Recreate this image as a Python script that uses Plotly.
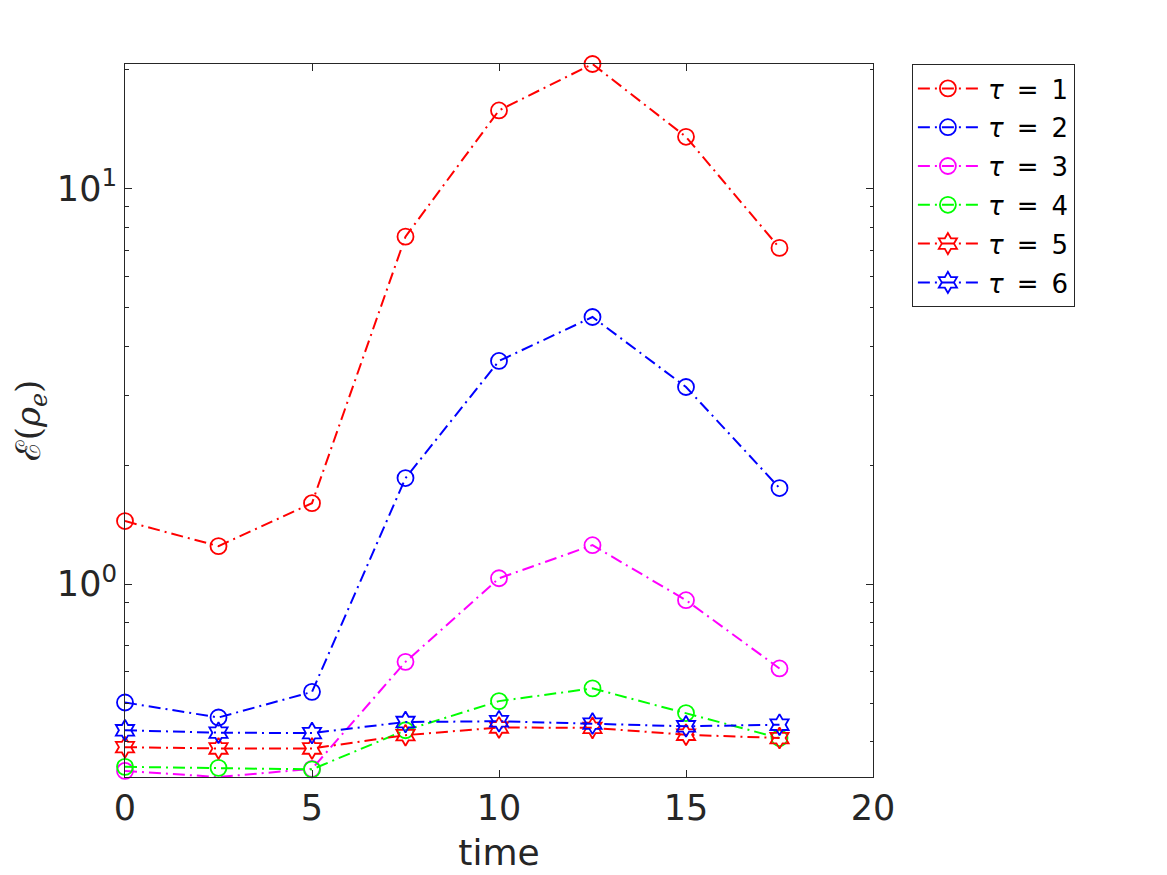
import plotly.graph_objects as go

# values (log y axis)
time = [0, 2.5, 5, 7.5, 10, 12.5, 15, 17.5]

tau1 = [1.444, 1.248, 1.603, 7.57, 15.79, 20.69, 13.54, 7.09]
tau2 = [0.502, 0.460, 0.534, 1.855, 3.67, 4.74, 3.153, 1.75]
tau3 = [0.337, 0.3252, 0.341, 0.636, 1.035, 1.255, 0.911, 0.612]
tau4 = [0.345, 0.343, 0.340, 0.427, 0.506, 0.545, 0.472, 0.408]
tau5 = [0.387, 0.384, 0.384, 0.415, 0.434, 0.433, 0.416, 0.408]
tau6 = [0.427, 0.421, 0.420, 0.448, 0.450, 0.444, 0.437, 0.441]

labels = ["1", "2", "3", "4", "5", "6"]
series = [tau1, tau2, tau3, tau4, tau5, tau6]
colors = ["#FF0000", "#0000FF", "#FF00FF", "#00FF00", "#FF0000", "#0000FF"]
symbols = ["circle-open"] * 4 + ["hexagram-open"] * 2

ytick_vals = [1, 10]
ytick_text = ["10<sup>0</sup>", "10<sup>1</sup>"]
yminor_vals = [0.4, 0.5, 0.6, 0.7, 0.8, 0.9, 2, 3, 4, 5, 6, 7, 8, 9, 20]

axcol = "#262626"

fig = go.Figure()
for lab, vals, col, sym in zip(labels, series, colors, symbols):
    fig.add_trace(go.Scatter(
        x=time, y=vals, mode="lines+markers",
        name="\u2009<i>τ</i>\u2002=\u2002" + lab, legendgroup=lab,
        line=dict(color=col, width=2, dash="12px,5px,2px,5px"),
        marker=dict(symbol=sym, size=16, color=col, line=dict(color=col, width=1.8)),
        cliponaxis=False,
    ))

# the page body has an 8px margin, so margins are offset by 8
fig.update_layout(
    width=1167, height=875,
    paper_bgcolor="white", plot_bgcolor="white",
    margin=dict(l=117, r=302, t=56, b=106),
    font=dict(family="DejaVu Sans", color=axcol),
    legend=dict(x=1.052, y=1.0, xanchor="left", yanchor="top",
                bordercolor=axcol, borderwidth=1,
                font=dict(size=26, color="black"),
                tracegroupgap=2, itemwidth=60),
    xaxis=dict(range=[0, 20], tickvals=[0, 5, 10, 15, 20], automargin=False,
               ticks="inside", ticklen=7, tickcolor=axcol,
               showline=True, linecolor=axcol, linewidth=1, mirror="ticks",
               showgrid=False, zeroline=False,
               tickfont=dict(size=35),
               title=dict(text="time", font=dict(size=36), standoff=12)),
    yaxis=dict(type="log", range=[-0.4878, 1.3158], automargin=False,
               tickmode="array", tickvals=ytick_vals, ticktext=ytick_text,
               ticks="inside", ticklen=7, tickcolor=axcol,
               minor=dict(tickmode="array", tickvals=yminor_vals,
                          ticks="inside", ticklen=3.5, tickcolor=axcol),
               showline=True, linecolor=axcol, linewidth=1, mirror="ticks",
               showgrid=False, zeroline=False,
               tickfont=dict(size=35),
               title=dict(text="ℰ(<i>ρ</i><sub><i>e</i></sub>)",
                          font=dict(size=34, family="DejaVu Serif"), standoff=20)),
)

fig.write_html("out.html")
